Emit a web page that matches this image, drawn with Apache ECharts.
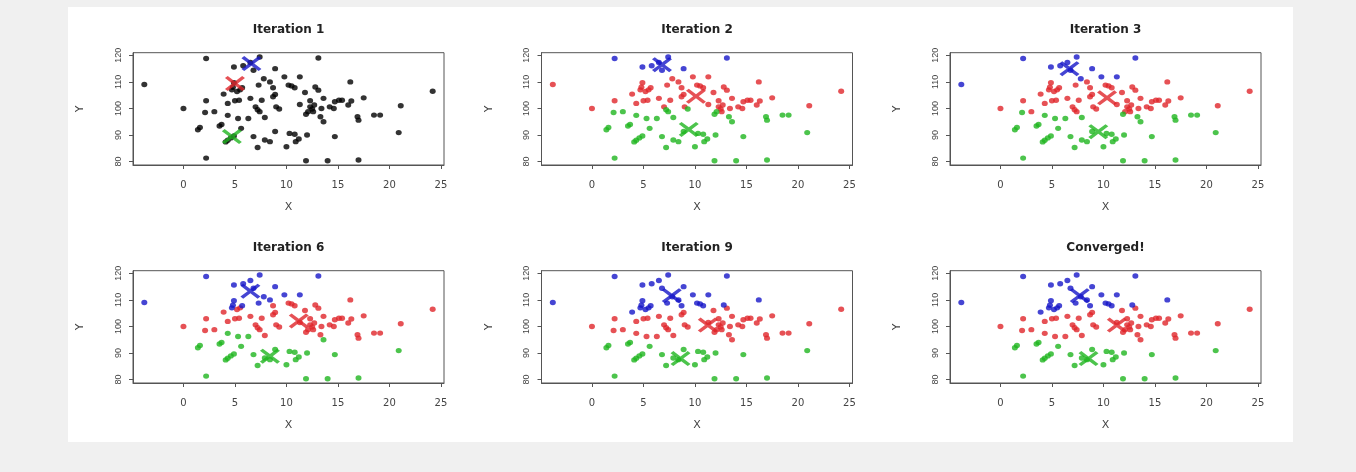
<!DOCTYPE html>
<html><head><meta charset="utf-8">
<script src="https://cdn.jsdelivr.net/npm/echarts@6/dist/echarts.min.js"></script>
<style>
html,body{margin:0;padding:0;background:#f0f0f0;}
#wrap{position:relative;width:1356px;height:472px;background:#f0f0f0;overflow:hidden}
#paper{position:absolute;left:68px;top:7px;width:1225px;height:435px;background:#fff}
#chart{position:absolute;left:0;top:0;width:1356px;height:472px}
</style></head><body>
<div id="wrap"><div id="paper"></div><div id="chart"></div></div>
<script>
// ---------------- data ----------------
const panelTitles = ["Iteration 1", "Iteration 2", "Iteration 3", "Iteration 6", "Iteration 9", "Converged!"];
const xTicks = [0, 5, 10, 15, 20, 25];
const yTicks = [80, 90, 100, 110, 120];

const pointX = [
  -3.8, 2.2, 13.1, 0.0, 2.2, 2.1, 3.0, 1.4, 1.6, 2.2,
  3.5, 3.7, 3.9, 4.3, 4.3, 4.1, 4.3, 4.6, 4.9, 4.9,
  5.8, 5.3, 5.6, 4.9, 4.7, 4.8, 5.2, 5.5, 5.7, 5.0,
  5.4, 6.3, 6.5, 6.5, 6.8, 6.8, 7.2, 7.4, 7.3, 7.0,
  7.2, 7.4, 7.6, 7.8, 7.9, 7.9, 8.4, 8.4, 8.7, 8.7,
  8.9, 8.9, 8.9, 9.0, 9.3, 9.8, 10.0, 10.2, 10.5, 10.8,
  10.3, 10.8, 10.9, 11.2, 11.3, 11.3, 11.8, 11.9, 12.1, 12.0,
  11.9, 12.3, 12.3, 12.5, 12.6, 12.7, 12.8, 13.1, 13.3, 13.6,
  13.6, 13.4, 14.0, 14.2, 14.6, 14.7, 14.7, 15.1, 15.4, 16.2,
  16.0, 16.3, 16.9, 17.0, 17.5, 17.0, 18.5, 19.1, 20.9, 21.1,
  24.2
];
const pointY = [
  109.0, 118.8, 119.0, 100.0, 102.9, 98.5, 98.8, 92.0, 92.8, 81.3,
  93.4, 94.0, 105.4, 97.4, 101.9, 87.4, 88.0, 88.9, 89.6, 115.6,
  116.1, 96.2, 92.5, 109.7, 107.0, 108.0, 106.4, 107.0, 107.8, 102.9,
  103.1, 96.2, 103.8, 117.3, 114.4, 89.4, 85.3, 119.4, 108.8, 100.6,
  99.5, 98.8, 103.1, 111.2, 96.6, 88.1, 87.5, 110.0, 107.8, 104.4,
  105.3, 115.0, 91.3, 100.6, 99.8, 111.9, 85.6, 108.8, 108.5, 107.8,
  90.6, 90.3, 87.5, 88.5, 111.9, 101.5, 106.0, 97.8, 98.8, 90.0,
  80.3, 102.9, 100.6, 99.8, 98.8, 101.3, 108.1, 106.9, 96.9, 95.0,
  103.8, 100.0, 80.3, 100.6, 100.0, 89.4, 102.5, 103.1, 103.1, 110.0,
  101.3, 102.8, 96.9, 95.6, 104.0, 80.6, 97.5, 97.5, 90.9, 101.0,
  106.5
];

// cluster of each point per panel: R = red, G = green, B = blue
const labelsIter2 = "RBBRRGGGGG GGRGRGGGGB BGGRRRRRRR RGRBBGGBRR GGRRGGGRRR RBGRGRGRRR GGGGRRRGGG GRRRRRRRGG RRGRRGRRRR RRGGRGGGGR R";
const labelsIter3 = "BBBRRGRGGG GGRGRGGGGB BGGRRRRRRR RGRBBGGBRR RRRBGGGRRR RBGRRBGRRR GGGGBRRGRG GRRRRRRRGG RRGRRGRRRR RRGGRGGGGR R";
const labelsIter6 = "BBBRRRRGGG GGRGRGGGGB BGGBBBRRBR RGRBBGGBBR RRRBRGGBRR RBGRRBGRRR GGGGBRRRRG GRRRRRRRRG RRGRRGRRRR RRRRRGRRGR R";
const labelsIter9 = "BBBRRRRGGG GGBRRGGGGB BRGBBBBBBR RRRBBGGBBR RRRBRGGBBR RBGRRBGBBB GGGGBRRRRG GRRRRRBRRR RRGRRGRRRB RRRRRGRRGR R";
const labelsConverged = "BBBRRRRGGG GGBRRGGGGB BRGBBBBBBR RRRBBGGBBR RRRBRGGBBR RBGRRBGBBB GGGGBRRRRG GRRRRRBRRR RRGRRGRRRB RRRRRGRRGR R";

// centroid (X marker) positions per panel
const centroidRed   = [[5.0, 109.4], [10.1, 104.6], [10.35, 104.0], [11.2, 102.1], [11.25, 100.5], [11.3, 100.5]];
const centroidGreen = [[4.7, 89.4], [9.4, 92.1], [9.5, 91.25], [8.4, 88.8], [8.6, 87.9], [8.55, 87.9]];
const centroidBlue  = [[6.6, 116.9], [6.8, 116.5], [6.7, 115.0], [6.5, 113.3], [7.75, 111.6], [7.7, 111.6]];

// ---------------- chart ----------------
const panelLabels = [null, labelsIter2, labelsIter3, labelsIter6, labelsIter9, labelsConverged]
  .map(s => s ? s.replace(/ /g, '') : null);
const X_MIN = -4.9, X_MAX = 25.3, Y_MIN = 78.7, Y_MAX = 121.0;
const COLORS = { R: '#e0262b', G: '#1fb51f', B: '#1616c8' };
const XPATH = 'path://M0,1.4L1.4,0L5,3.6L8.6,0L10,1.4L6.4,5L10,8.6L8.6,10L5,6.4L1.4,10L0,8.6L3.6,5Z';
const axisTextColor = '#444';
const lineColor = '#555';

const grids = [], xAxes = [], yAxes = [], series = [], titles = [];
for (let i = 0; i < 6; i++) {
  const c = i % 3, r = Math.floor(i / 3);
  const left = 133 + 408.5 * c, top = 52.7 + 218 * r, w = 311, h = 112.3;
  grids.push({ left: left, top: top, width: w, height: h, show: true,
    borderColor: lineColor, borderWidth: 1, backgroundColor: 'transparent' });
  xAxes.push({ gridIndex: i, type: 'value', min: X_MIN, max: X_MAX, position: 'bottom',
    name: 'X', nameLocation: 'middle', nameGap: 37,
    nameTextStyle: { fontFamily: 'DejaVu Sans', fontSize: 11, color: axisTextColor },
    axisLine: { show: true, onZero: false, lineStyle: { color: lineColor, width: 1 } },
    splitLine: { show: false },
    axisTick: { show: true, length: 4, customValues: xTicks, lineStyle: { color: lineColor } },
    axisLabel: { customValues: xTicks, margin: 15, fontFamily: 'DejaVu Sans', fontSize: 10, color: axisTextColor } });
  yAxes.push({ gridIndex: i, type: 'value', min: Y_MIN, max: Y_MAX, position: 'left',
    name: 'Y', nameLocation: 'middle', nameGap: 47,
    nameTextStyle: { fontFamily: 'DejaVu Sans', fontSize: 11, color: axisTextColor },
    axisLine: { show: true, onZero: false, lineStyle: { color: lineColor, width: 1 } },
    splitLine: { show: false },
    axisTick: { show: true, length: 4, customValues: yTicks, lineStyle: { color: lineColor } },
    axisLabel: { customValues: yTicks, rotate: 90, margin: 10, fontFamily: 'Liberation Sans', fontSize: 9, color: axisTextColor } });
  titles.push({ text: panelTitles[i], left: left + w / 2, top: top - 29, textAlign: 'center', padding: 0,
    textStyle: { fontFamily: 'DejaVu Sans', fontWeight: 'bold', fontSize: 12, color: '#222' } });

  const labels = panelLabels[i];
  if (!labels) {
    series.push({ type: 'scatter', xAxisIndex: i, yAxisIndex: i, symbol: 'circle', symbolSize: [6, 5.4],
      itemStyle: { color: '#000' }, silent: true,
      data: pointX.map((x, k) => [x, pointY[k]]) });
  } else {
    ['R', 'G', 'B'].forEach(key => {
      series.push({ type: 'scatter', xAxisIndex: i, yAxisIndex: i, symbol: 'circle', symbolSize: [6, 5.4],
        itemStyle: { color: COLORS[key] }, silent: true,
        data: pointX.map((x, k) => [x, pointY[k], labels[k]]).filter(d => d[2] === key).map(d => [d[0], d[1]]) });
    });
  }
  series.push({ type: 'scatter', xAxisIndex: i, yAxisIndex: i, symbol: XPATH, symbolSize: [20, 15], z: 5, silent: true,
    data: [
      { value: centroidRed[i], itemStyle: { color: COLORS.R } },
      { value: centroidGreen[i], itemStyle: { color: COLORS.G } },
      { value: centroidBlue[i], itemStyle: { color: COLORS.B } }
    ] });
}

const chart = echarts.init(document.getElementById('chart'), null, { renderer: 'canvas' });
chart.setOption({
  animation: false,
  backgroundColor: 'transparent',
  title: titles,
  grid: grids,
  xAxis: xAxes,
  yAxis: yAxes,
  series: series
});
</script>
</body></html>
